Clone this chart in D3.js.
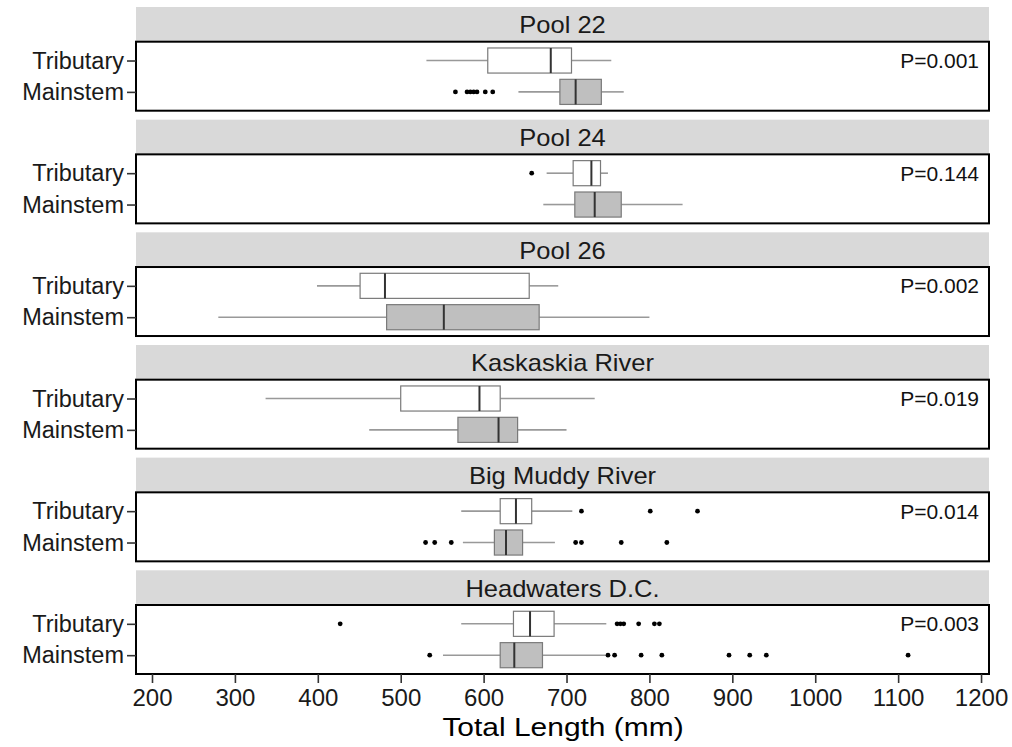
<!DOCTYPE html>
<html>
<head>
<meta charset="utf-8">
<script src="https://cdn.jsdelivr.net/npm/d3@7"></script>
<style>
  html, body { margin: 0; padding: 0; background: #fff; }
  svg { display: block; font-family: Arial, "Liberation Sans", sans-serif; }
</style>
</head>
<body>
<svg id="chart" width="1012" height="747"></svg>
<script>
// ---------- data ----------
const facets = ["Pool 22", "Pool 24", "Pool 26", "Kaskaskia River", "Big Muddy River", "Headwaters D.C."];
const habitats = ["Tributary", "Mainstem"];
const pValues = ["P=0.001", "P=0.144", "P=0.002", "P=0.019", "P=0.014", "P=0.003"];
// [lower whisker, Q1, median, Q3, upper whisker]
const tributaryStats = [
  [531, 605, 681, 706, 754],
  [676, 708, 730, 741, 750],
  [399, 451, 481, 655, 690],
  [337, 500, 595, 620, 734],
  [573, 620, 639, 658, 707],
  [573, 636, 656, 685, 748]
];
const mainstemStats = [
  [642, 692, 711, 742, 769],
  [672, 710, 734, 766, 840],
  [280, 483, 552, 667, 800],
  [462, 569, 618, 641, 700],
  [575, 613, 627, 647, 686],
  [551, 620, 637, 671, 747]
];
const tributaryOutliers = [
  [],
  [658],
  [],
  [],
  [718, 801, 858],
  [427, 761, 765, 769, 787, 806, 812]
];
const mainstemOutliers = [
  [566, 580, 584, 588, 592, 602, 611],
  [],
  [],
  [],
  [530, 541, 561, 711, 718, 766, 821],
  [535, 750, 758, 790, 815, 896, 921, 941, 1112]
];
const xTicks = [200, 300, 400, 500, 600, 700, 800, 900, 1000, 1100, 1200];
const xDomain = [180.7, 1209.6];
const xTitle = "Total Length (mm)";

// ---------- layout ----------
const svg = d3.select("#chart");
const left = 136, right = 989;
const stripTop0 = 7, stripH = 34.7, panelH = 69, period = 112.66;
const fills = { Tributary: "#ffffff", Mainstem: "#bfbfbf" };
const statsBy = { Tributary: tributaryStats, Mainstem: mainstemStats };
const outBy = { Tributary: tributaryOutliers, Mainstem: mainstemOutliers };

const x = d3.scaleLinear().domain(xDomain).range([left, right]);
const y = d3.scalePoint().domain(habitats).range([0, panelH]).padding(0.6);
const boxH = y.step() * 0.8;

function stretchedText(parent, cx, cy, str, size, sx, baseline) {
  const g = parent.append("g").attr("transform", `translate(${cx},${cy}) scale(${sx},1)`);
  return g.append("text").attr("x", 0).attr("y", 0).attr("text-anchor", "middle")
    .attr("dominant-baseline", baseline || "central")
    .attr("font-size", size).text(str);
}

facets.forEach((name, i) => {
  const sTop = stripTop0 + i * period;
  const pTop = sTop + stripH;
  const g = svg.append("g");

  // strip
  g.append("rect").attr("x", left).attr("y", sTop).attr("width", right - left).attr("height", stripH)
    .attr("fill", "#d9d9d9");
  stretchedText(g, (left + right) / 2, sTop + stripH / 2 + 1, name, 23, 1.11).attr("fill", "#1a1a1a");

  const pg = g.append("g").attr("transform", `translate(0,${pTop})`);
  pg.append("rect").attr("x", left).attr("y", 0).attr("width", right - left).attr("height", panelH)
    .attr("fill", "#fff");

  habitats.forEach(h => {
    const s = statsBy[h][i];
    const cy = y(h);
    // whiskers
    pg.append("line").attr("x1", x(s[0])).attr("x2", x(s[1])).attr("y1", cy).attr("y2", cy)
      .attr("stroke", "#999").attr("stroke-width", 1.6);
    pg.append("line").attr("x1", x(s[3])).attr("x2", x(s[4])).attr("y1", cy).attr("y2", cy)
      .attr("stroke", "#999").attr("stroke-width", 1.6);
    // box
    pg.append("rect").attr("x", x(s[1])).attr("y", cy - boxH / 2)
      .attr("width", x(s[3]) - x(s[1])).attr("height", boxH)
      .attr("fill", fills[h]).attr("stroke", "#7a7a7a").attr("stroke-width", 1.2);
    // median
    pg.append("line").attr("x1", x(s[2])).attr("x2", x(s[2]))
      .attr("y1", cy - boxH / 2).attr("y2", cy + boxH / 2)
      .attr("stroke", "#333").attr("stroke-width", 2);
    // outliers
    pg.selectAll(null).data(outBy[h][i]).enter().append("circle")
      .attr("cx", d => x(d)).attr("cy", cy).attr("r", 2.4).attr("fill", "#000");
  });

  // panel border
  pg.append("rect").attr("x", left).attr("y", 0).attr("width", right - left).attr("height", panelH)
    .attr("fill", "none").attr("stroke", "#000").attr("stroke-width", 2);

  // y axis
  const ya = pg.append("g").attr("transform", `translate(${left},0)`)
    .call(d3.axisLeft(y).tickSize(9).tickPadding(3));
  ya.select(".domain").remove();
  ya.selectAll(".tick line").attr("stroke", "#333").attr("stroke-width", 1.6);
  ya.selectAll(".tick text").attr("font-size", 23.5).attr("fill", "#1a1a1a")
    .attr("font-family", "Arial, 'Liberation Sans', sans-serif");

  // p-value
  pg.append("text").attr("x", right - 10).attr("y", y("Tributary"))
    .attr("text-anchor", "end").attr("dominant-baseline", "central")
    .attr("font-size", 21).attr("fill", "#111").text(pValues[i]);

  // x axis for the last panel
  if (i === facets.length - 1) {
    const xa = pg.append("g").attr("transform", `translate(0,${panelH})`)
      .call(d3.axisBottom(x).tickValues(xTicks).tickSize(9).tickPadding(6).tickFormat(d3.format("d")));
    xa.select(".domain").remove();
    xa.selectAll(".tick line").attr("stroke", "#333").attr("stroke-width", 1.6);
    xa.selectAll(".tick text").attr("font-size", 24).attr("fill", "#1a1a1a")
      .attr("font-family", "Arial, 'Liberation Sans', sans-serif");
    stretchedText(pg, 563, panelH + 62, xTitle, 26.5, 1.13, "auto").attr("fill", "#000");
  }
});
</script>
</body>
</html>
